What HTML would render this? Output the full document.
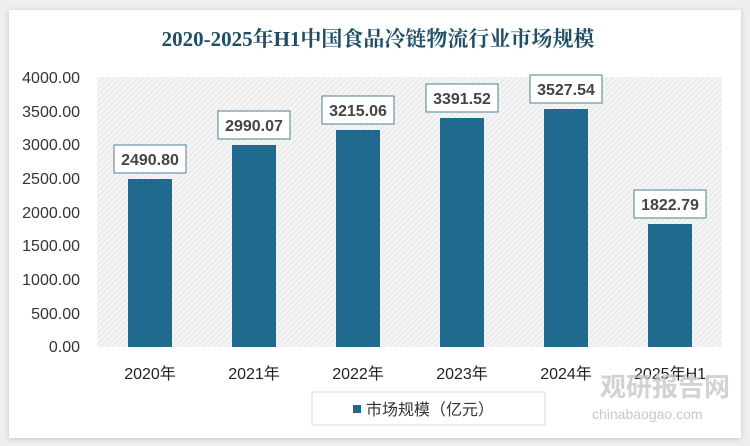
<!DOCTYPE html>
<html><head><meta charset="utf-8"><style>
body{margin:0;background:#efefef;}
svg{display:block;font-family:"Liberation Sans","Noto Sans CJK SC",sans-serif;}
</style></head><body>
<svg width="750" height="446" viewBox="0 0 750 446">
<defs>
<pattern id="h" width="4" height="4" patternUnits="userSpaceOnUse" patternTransform="rotate(45)">
<rect width="4" height="4" fill="#f4f4f4"/><line x1="0" y1="0" x2="0" y2="4" stroke="#dcdcdc" stroke-width="1.2"/>
</pattern>
<filter id="s" x="-5%" y="-5%" width="110%" height="110%"><feDropShadow dx="0" dy="1" stdDeviation="3" flood-color="#000" flood-opacity="0.18"/></filter>
</defs>
<rect x="0" y="0" width="750" height="446" fill="#efefef"/>
<rect x="9" y="10" width="732" height="428" fill="#fff" filter="url(#s)"/>
<text x="378" y="46" text-anchor="middle" font-size="21" font-weight="bold" fill="#1f4e66" font-family="Liberation Serif, Noto Serif CJK SC, serif">2020-2025年H1中国食品冷链物流行业市场规模</text>
<rect x="97" y="77" width="625" height="270" fill="url(#h)"/>
<g font-size="16" fill="#333" text-anchor="end">
<text x="80" y="83">4000.00</text>
<text x="80" y="117">3500.00</text>
<text x="80" y="150">3000.00</text>
<text x="80" y="184">2500.00</text>
<text x="80" y="218">2000.00</text>
<text x="80" y="251">1500.00</text>
<text x="80" y="285">1000.00</text>
<text x="80" y="319">500.00</text>
<text x="80" y="352">0.00</text>
</g>
<g fill="#1f6a8e">
<rect x="128" y="179" width="44" height="168"/>
<rect x="232" y="145" width="44" height="202"/>
<rect x="336" y="130" width="44" height="217"/>
<rect x="440" y="118" width="44" height="229"/>
<rect x="544" y="109" width="44" height="238"/>
<rect x="648" y="224" width="44" height="123"/>
</g>
<g fill="#fff" stroke="#4d7f96" stroke-width="1">
<rect x="114" y="145" width="72" height="28"/>
<rect x="218" y="111" width="72" height="28"/>
<rect x="322" y="96" width="72" height="28"/>
<rect x="426" y="84" width="72" height="28"/>
<rect x="530" y="75" width="72" height="28"/>
<rect x="634" y="190" width="72" height="28"/>
</g>
<g font-size="16" font-weight="bold" fill="#444" text-anchor="middle">
<text x="150" y="165">2490.80</text>
<text x="254" y="131">2990.07</text>
<text x="358" y="116">3215.06</text>
<text x="462" y="104">3391.52</text>
<text x="566" y="95">3527.54</text>
<text x="670" y="210">1822.79</text>
</g>
<g font-size="16" fill="#222" text-anchor="middle">
<text x="150" y="379">2020年</text>
<text x="254" y="379">2021年</text>
<text x="358" y="379">2022年</text>
<text x="462" y="379">2023年</text>
<text x="566" y="379">2024年</text>
<text x="670" y="379">2025年H1</text>
</g>
<rect x="312" y="392" width="233" height="33" fill="#fff" stroke="#d8d8d8"/>
<rect x="353" y="405" width="8" height="8" fill="#1f6a8e"/>
<text x="366" y="415" font-size="16" fill="#333">市场规模（亿元）</text>
<text x="600" y="396" font-size="26" font-weight="bold" fill="#c8c8c8" opacity="0.8">观研报告网</text>
<text x="592" y="419" font-size="14" fill="#c8c8c8">chinabaogao.com</text>
</svg>
</body></html>
